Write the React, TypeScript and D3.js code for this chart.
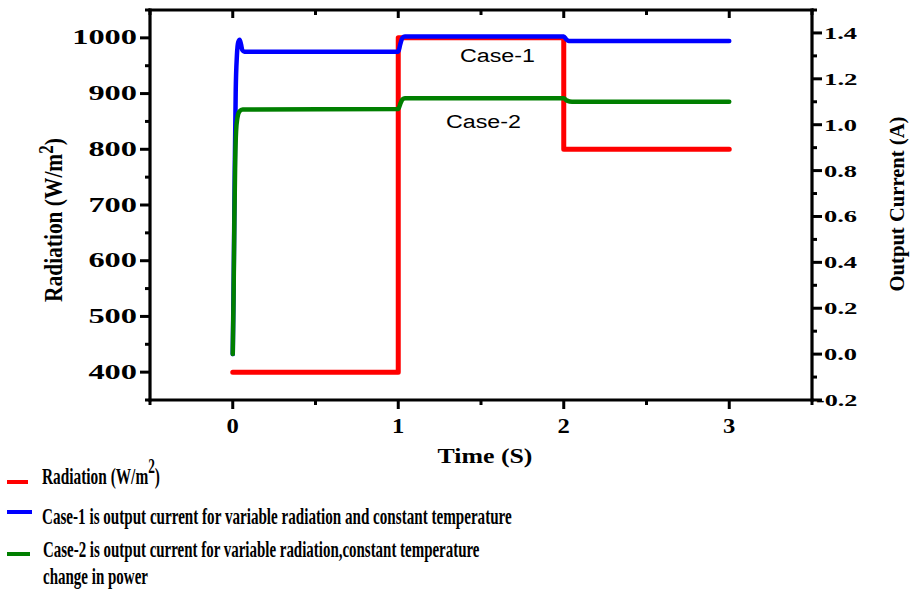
import React, { useLayoutEffect, useRef, useState } from "react";
import * as d3 from "d3";

// ---------- data ----------
const radiationTime = [0, 1, 1, 2, 2, 3];
const radiationValue = [400, 400, 1000, 1000, 800, 800];

const case1Time = [0, 0.006, 0.012, 0.018, 0.025, 0.033, 0.042, 0.05, 0.058, 0.07, 0.1, 1.0, 1.012, 1.025, 1.04, 2.0, 2.015, 2.03, 3.0];
const case1Value = [0, 0.35, 0.8, 1.15, 1.3, 1.36, 1.37, 1.35, 1.325, 1.318, 1.318, 1.318, 1.35, 1.378, 1.384, 1.384, 1.372, 1.365, 1.365];

const case2Time = [0, 0.005, 0.01, 0.015, 0.02, 0.028, 0.04, 0.06, 1.0, 1.012, 1.025, 1.04, 2.0, 2.02, 2.05, 3.0];
const case2Value = [0, 0.25, 0.6, 0.85, 0.97, 1.03, 1.058, 1.066, 1.068, 1.09, 1.11, 1.115, 1.115, 1.105, 1.1, 1.1];

const xTicks = [0, 1, 2, 3];
const xTickLabels = ["0", "1", "2", "3"];
const xMinorTicks = [-0.5, 0.5, 1.5, 2.5, 3.5];
const leftTicks = [400, 500, 600, 700, 800, 900, 1000];
const leftTickLabels = ["400", "500", "600", "700", "800", "900", "1000"];
const leftMinorTicks = [350, 450, 550, 650, 750, 850, 950, 1050];
const rightTicks = [-0.2, 0, 0.2, 0.4, 0.6, 0.8, 1.0, 1.2, 1.4];
const rightTickLabels = ["-0.2", "0.0", "0.2", "0.4", "0.6", "0.8", "1.0", "1.2", "1.4"];
const rightMinorTicks = [-0.1, 0.1, 0.3, 0.5, 0.7, 0.9, 1.1, 1.3, 1.5];

const legendLabels = [
  "Radiation (W/m",
  "Case-1 is output current for variable radiation and constant temperature",
  "Case-2 is output current for variable radiation,constant temperature",
  "change in power",
];

// ---------- layout ----------
const W = 914, H = 595;
const L = 150, R = 812, T = 10, B = 400;
const SERIF = "'Liberation Serif', 'Times New Roman', serif";
const SANS = "'Liberation Sans', Arial, sans-serif";

function FitText(props: any) {
  const { x, y, w, anchor = "start", rotate = 0, fontSize, family = SERIF, weight = "bold", fill = "#000", children } = props;
  const ref = useRef<SVGTextElement>(null);
  const [s, setS] = useState(1);
  useLayoutEffect(() => {
    if (ref.current) {
      const bw = ref.current.getBBox().width;
      if (bw > 0) setS(w / bw);
    }
  }, [w]);
  return (
    <g transform={`translate(${x},${y}) rotate(${rotate}) scale(${s},1)`}>
      <text ref={ref} textAnchor={anchor} fontSize={fontSize} fontFamily={family} fontWeight={weight} fill={fill}>
        {children}
      </text>
    </g>
  );
}

function labelWidth(s: string, digit: number, dot: number, minus: number) {
  let w = 0;
  for (const c of s) w += c === "." ? dot : c === "-" ? minus : digit;
  return w;
}

export default function App() {
  const x = d3.scaleLinear().domain([-0.5, 3.5]).range([L, R]);
  const yL = d3.scaleLinear().domain([350, 1050]).range([B, T]);
  const yR = d3.scaleLinear().domain([-0.2, 1.5]).range([B, T]);

  const radLine = d3.line<number>().x((_, i) => x(radiationTime[i])).y((v) => yL(v)).curve(d3.curveLinear);
  const c1Line = d3.line<number>().x((_, i) => x(case1Time[i])).y((v) => yR(v)).curve(d3.curveMonotoneX);
  const c2Line = d3.line<number>().x((_, i) => x(case2Time[i])).y((v) => yR(v)).curve(d3.curveMonotoneX);

  const axisW = 3.2;
  const tickW = 3;

  return (
    <svg width={W} height={H} style={{ position: "absolute", left: 0, top: 0, background: "#fff" }}>
      <rect x={0} y={0} width={W} height={H} fill="#fff" />

      {/* series */}
      <path d={radLine(radiationValue) || ""} fill="none" stroke="#ff0000" strokeWidth={5} strokeLinejoin="round" strokeLinecap="round" />
      <path d={c1Line(case1Value) || ""} fill="none" stroke="#0000ff" strokeWidth={4.5} strokeLinejoin="round" strokeLinecap="round" />
      <path d={c2Line(case2Value) || ""} fill="none" stroke="#007f00" strokeWidth={4.5} strokeLinejoin="round" strokeLinecap="round" />

      {/* frame */}
      <line x1={L} x2={L} y1={T - 1.5} y2={B + 1.5} stroke="#000" strokeWidth={axisW} />
      <line x1={R} x2={R} y1={T - 1.5} y2={B + 1.5} stroke="#000" strokeWidth={axisW} />
      <line x1={L - 1.5} x2={R + 1.5} y1={T} y2={T} stroke="#000" strokeWidth={axisW} />
      <line x1={L - 1.5} x2={R + 1.5} y1={B} y2={B} stroke="#000" strokeWidth={axisW} />

      {/* bottom & top ticks */}
      {xTicks.map((t) => (
        <g key={"xb" + t}>
          <line x1={x(t)} x2={x(t)} y1={B} y2={B + 9} stroke="#000" strokeWidth={tickW} />
          <line x1={x(t)} x2={x(t)} y1={T} y2={T + 8} stroke="#000" strokeWidth={tickW} />
        </g>
      ))}
      {xMinorTicks.map((t) => (
        <g key={"xm" + t}>
          <line x1={x(t)} x2={x(t)} y1={B} y2={B + 5} stroke="#000" strokeWidth={tickW} />
          <line x1={x(t)} x2={x(t)} y1={T} y2={T + 5} stroke="#000" strokeWidth={tickW} />
        </g>
      ))}
      {xTicks.map((t, i) => (
        <FitText key={"xl" + t} x={x(t)} y={433} w={12.3 * xTickLabels[i].length} anchor="middle" fontSize={20}>
          {xTickLabels[i]}
        </FitText>
      ))}

      {/* left ticks */}
      {leftTicks.map((t) => (
        <line key={"lt" + t} x1={L - 10} x2={L} y1={yL(t)} y2={yL(t)} stroke="#000" strokeWidth={tickW} />
      ))}
      {leftMinorTicks.map((t) => (
        <line key={"lm" + t} x1={L - 5} x2={L} y1={yL(t)} y2={yL(t)} stroke="#000" strokeWidth={tickW} />
      ))}
      {leftTicks.map((t, i) => (
        <FitText key={"ll" + t} x={137} y={yL(t) + 6.5} w={16.2 * leftTickLabels[i].length} anchor="end" fontSize={21}>
          {leftTickLabels[i]}
        </FitText>
      ))}

      {/* right ticks */}
      {rightTicks.map((t) => (
        <line key={"rt" + t} x1={R} x2={R + 10} y1={yR(t)} y2={yR(t)} stroke="#000" strokeWidth={tickW} />
      ))}
      {rightMinorTicks.map((t) => (
        <line key={"rm" + t} x1={R} x2={R + 5} y1={yR(t)} y2={yR(t)} stroke="#000" strokeWidth={tickW} />
      ))}
      {rightTicks.map((t, i) => (
        <FitText key={"rl" + t} x={rightTickLabels[i].startsWith("-") ? 816 : 824} y={yR(t) + 6} w={labelWidth(rightTickLabels[i], 13.5, 6.5, 8)} anchor="start" fontSize={17.5}>
          {rightTickLabels[i]}
        </FitText>
      ))}

      {/* axis titles */}
      <FitText x={62} y={220} w={164} anchor="middle" rotate={-90} fontSize={25}>
        <tspan>Radiation (W/m</tspan>
        <tspan dy={-9} fontSize={20}>2</tspan>
        <tspan dy={9}>)</tspan>
      </FitText>
      <FitText x={904} y={204} w={175} anchor="middle" rotate={-90} fontSize={22}>
        Output Current (A)
      </FitText>
      <FitText x={485} y={463} w={95} anchor="middle" fontSize={21}>
        Time (S)
      </FitText>

      {/* in-plot labels */}
      <FitText x={460} y={62} w={75} fontSize={19} family={SANS} weight="normal">Case-1</FitText>
      <FitText x={446} y={128} w={75} fontSize={19} family={SANS} weight="normal">Case-2</FitText>

      {/* legend */}
      <line x1={7} x2={28} y1={482} y2={482} stroke="#ff0000" strokeWidth={4} />
      <line x1={7} x2={32} y1={512} y2={512} stroke="#0000ff" strokeWidth={4} />
      <line x1={7} x2={30} y1={554} y2={554} stroke="#007f00" strokeWidth={4} />
      <FitText x={42} y={484} w={118} fontSize={23}>
        <tspan>{legendLabels[0]}</tspan>
        <tspan dy={-11} fontSize={20}>2</tspan>
        <tspan dy={11}>)</tspan>
      </FitText>
      <FitText x={42} y={524} w={470} fontSize={23}>{legendLabels[1]}</FitText>
      <FitText x={43} y={557} w={437} fontSize={23}>{legendLabels[2]}</FitText>
      <FitText x={43} y={584} w={105} fontSize={23}>{legendLabels[3]}</FitText>
    </svg>
  );
}
